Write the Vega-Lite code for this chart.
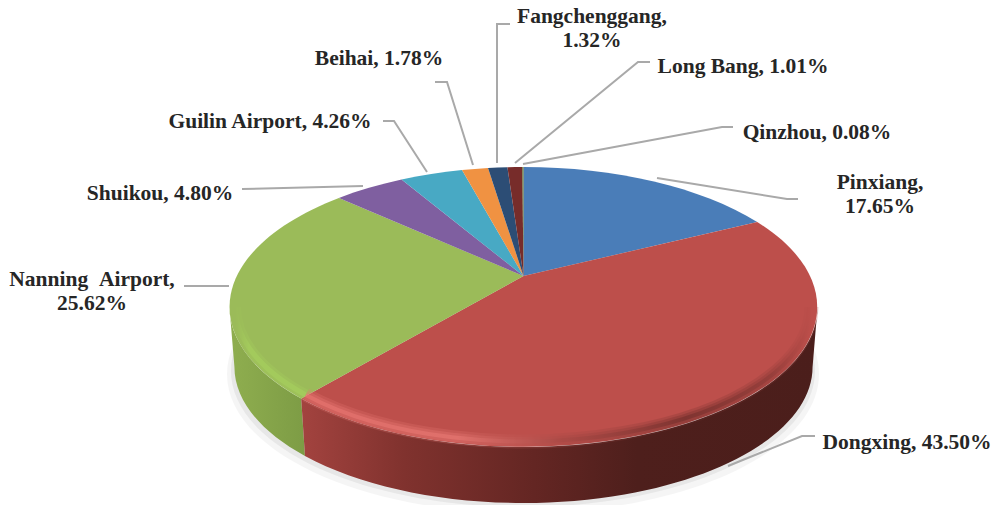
{
"$schema":"https://vega.github.io/schema/vega-lite/v6.json",
"width":997,"height":505,"padding":0,
"autosize":{"type":"fit","contains":"padding"},
"background":"white",
"config":{"view":{"stroke":null}},
"data":{"values":[
{"name":"Pinxiang","value":17.65,"label":"Pinxiang,\n17.65%"},
{"name":"Dongxing","value":43.5,"label":"Dongxing, 43.50%"},
{"name":"Nanning Airport","value":25.62,"label":"Nanning \u00a0Airport,\n25.62%"},
{"name":"Shuikou","value":4.8,"label":"Shuikou, 4.80%"},
{"name":"Guilin Airport","value":4.26,"label":"Guilin Airport, 4.26%"},
{"name":"Beihai","value":1.78,"label":"Beihai, 1.78%"},
{"name":"Fangchenggang","value":1.32,"label":"Fangchenggang,\n1.32%"},
{"name":"Long Bang","value":1.01,"label":"Long Bang, 1.01%"},
{"name":"Qinzhou","value":0.08,"label":"Qinzhou, 0.08%"}
]},
"transform":[
{"joinaggregate":[{"op":"sum","field":"value","as":"total"}]},
{"window":[{"op":"sum","field":"value","as":"cum"}]},
{"calculate":"0","as":"o"},
{"calculate":"2*PI*(datum.cum-datum.value)/datum.total","as":"t0"},
{"calculate":"2*PI*datum.cum/datum.total","as":"t1"},
{"calculate":"523.5+286.8*sin(datum.t0)/(1+0.221*cos(datum.t0))","as":"x0"},
{"calculate":"276-133.1*cos(datum.t0)/(1+0.221*cos(datum.t0))","as":"y0"},
{"calculate":"523.5+286.8*sin(datum.t1)/(1+0.221*cos(datum.t1))","as":"x1"},
{"calculate":"276-133.1*cos(datum.t1)/(1+0.221*cos(datum.t1))","as":"y1"},
{"calculate":"'M523.5 276 L'+format(datum.x0,'.2f')+' '+format(datum.y0,'.2f')+' A294 140 0 0 1 '+format(datum.x1,'.2f')+' '+format(datum.y1,'.2f')+' Z'","as":"face"},
{"calculate":"max(datum.t0,1.794)","as":"a"},
{"calculate":"min(datum.t1,4.489)","as":"b"},
{"calculate":"523.5+286.8*sin(datum.a)/(1+0.221*cos(datum.a))","as":"ax"},
{"calculate":"276-133.1*cos(datum.a)/(1+0.221*cos(datum.a))","as":"ay"},
{"calculate":"523.5+286.8*sin(datum.b)/(1+0.221*cos(datum.b))","as":"bx"},
{"calculate":"276-133.1*cos(datum.b)/(1+0.221*cos(datum.b))","as":"by"},
{"calculate":"'M'+format(datum.ax,'.2f')+' '+format(datum.ay,'.2f')+' A294 140 0 0 1 '+format(datum.bx,'.2f')+' '+format(datum.by,'.2f')+' L'+format(523.5+(datum.bx-523.5)*289/294,'.2f')+' '+format(367+(datum.by-307)*136/140,'.2f')+' A289 136 0 0 0 '+format(523.5+(datum.ax-523.5)*289/294,'.2f')+' '+format(367+(datum.ay-307)*136/140,'.2f')+' Z'","as":"wall"},
{"calculate":"'M'+format(523.5+(datum.ax-523.5)*288/294,'.2f')+' '+format(307+(datum.ay-307)*134.5/140,'.2f')+' A288 134.5 0 0 1 '+format(523.5+(datum.bx-523.5)*288/294,'.2f')+' '+format(307+(datum.by-307)*134.5/140,'.2f')","as":"rim"},
{"calculate":"{'Pinxiang':880,'Dongxing':907,'Nanning Airport':92,'Shuikou':160,'Guilin Airport':270,'Beihai':379,'Fangchenggang':592,'Long Bang':743,'Qinzhou':817}[datum.name]","as":"lx"},
{"calculate":"{'Pinxiang':182.5,'Dongxing':443,'Nanning Airport':280,'Shuikou':194,'Guilin Airport':122,'Beihai':59,'Fangchenggang':17,'Long Bang':67,'Qinzhou':133}[datum.name]","as":"ly"},
{"calculate":"{'Pinxiang':'M657 178 L787 199 L798 199','Dongxing':'M728 466 L802 436 L815 436','Nanning Airport':'M229 286 L184 286','Shuikou':'M363 186 L242 189','Guilin Airport':'M427 172 L394 121 L383 121','Beihai':'M473 165 L447 82 L435 82','Fangchenggang':'M497 163 L497 24 L510 24','Long Bang':'M515 163 L638 62 L650 62','Qinzhou':'M523 164 L722 127 L733 127'}[datum.name]","as":"leader"}
],
"resolve":{"scale":{"x":"shared","y":"shared"}},
"layer":[
{"transform":[{"filter":"datum.name==='Dongxing'"}],
 "mark":{"type":"point","filled":true,"size":4,"opacity":0.08,"color":"#808080"},
 "encoding":{
  "x":{"field":"o","type":"quantitative","scale":{"domain":[0,997],"range":[0,997],"nice":false},"axis":null},
  "y":{"field":"o","type":"quantitative","scale":{"domain":[0,505],"range":[0,505],"nice":false},"axis":null},
  "shape":{"value":"M227 374 A296 139 0 0 1 819 374 A296 139 0 0 1 227 374 Z"}}},
{"transform":[{"filter":"datum.name==='Dongxing'"}],
 "mark":{"type":"point","filled":true,"size":4,"opacity":0.12,"color":"#808080"},
 "encoding":{
  "x":{"field":"o","type":"quantitative","axis":null},
  "y":{"field":"o","type":"quantitative","axis":null},
  "shape":{"value":"M231 371 A292 136 0 0 1 815 371 A292 136 0 0 1 231 371 Z"}}},
{"transform":[{"filter":"datum.name==='Nanning Airport'"}],
 "mark":{"type":"point","filled":true,"size":4,"opacity":1,"fill":{"gradient":"linear","x1":0,"x2":1,"y1":0,"y2":0,"stops":[{"offset":0,"color":"#8fae4f"},{"offset":1,"color":"#7d9c45"}]}},
 "encoding":{
  "x":{"field":"o","type":"quantitative","axis":null},
  "y":{"field":"o","type":"quantitative","axis":null},
  "shape":{"field":"wall","type":"nominal","scale":null}}},
{"transform":[{"filter":"datum.name==='Dongxing'"}],
 "mark":{"type":"point","filled":true,"size":4,"opacity":1,"fill":{"gradient":"linear","x1":0,"x2":1,"y1":0,"y2":0,"stops":[{"offset":0,"color":"#a3433f"},{"offset":0.2,"color":"#80322e"},{"offset":0.45,"color":"#642623"},{"offset":0.65,"color":"#4e1f1c"},{"offset":1,"color":"#4b1e1b"}]}},
 "encoding":{
  "x":{"field":"o","type":"quantitative","axis":null},
  "y":{"field":"o","type":"quantitative","axis":null},
  "shape":{"field":"wall","type":"nominal","scale":null}}},
{"mark":{"type":"point","filled":true,"size":4,"opacity":1},
 "encoding":{
  "x":{"field":"o","type":"quantitative","axis":null},
  "y":{"field":"o","type":"quantitative","axis":null},
  "shape":{"field":"face","type":"nominal","scale":null},
  "color":{"field":"name","type":"nominal","legend":null,"sort":null,"scale":{
    "domain":["Pinxiang","Dongxing","Nanning Airport","Shuikou","Guilin Airport","Beihai","Fangchenggang","Long Bang","Qinzhou"],
    "range":["#4a7db8","#bd4f4b","#9bbb59","#7f5fa0","#48a9c4","#f09242","#2c4d75","#772c2a","#5f7530"]}}}},
{"transform":[{"filter":"datum.name==='Nanning Airport'"}],
 "mark":{"type":"point","filled":false,"size":4,"opacity":0.25,"strokeWidth":11,"strokeCap":"butt","stroke":{"gradient":"linear","x1":0,"x2":1,"y1":0,"y2":0,"stops":[{"offset":0,"color":"#9bbb59"},{"offset":0.2,"color":"#a9d45f"},{"offset":1,"color":"#a9d45f"}]}},
 "encoding":{
  "x":{"field":"o","type":"quantitative","axis":null},
  "y":{"field":"o","type":"quantitative","axis":null},
  "shape":{"field":"rim","type":"nominal","scale":null}}},
{"transform":[{"filter":"datum.name==='Nanning Airport'"}],
 "mark":{"type":"point","filled":false,"size":4,"opacity":0.5,"strokeWidth":5,"strokeCap":"butt","stroke":{"gradient":"linear","x1":0,"x2":1,"y1":0,"y2":0,"stops":[{"offset":0,"color":"#9bbb59"},{"offset":0.2,"color":"#a9d45f"},{"offset":1,"color":"#a9d45f"}]}},
 "encoding":{
  "x":{"field":"o","type":"quantitative","axis":null},
  "y":{"field":"o","type":"quantitative","axis":null},
  "shape":{"field":"rim","type":"nominal","scale":null}}},
{"transform":[{"filter":"datum.name==='Dongxing'"}],
 "mark":{"type":"point","filled":false,"size":4,"opacity":0.22,"strokeWidth":14,"strokeCap":"butt","stroke":{"gradient":"linear","x1":0,"x2":1,"y1":0,"y2":0,"stops":[{"offset":0,"color":"#ee7a75"},{"offset":0.3,"color":"#ec7d78"},{"offset":0.5,"color":"#a84a46"},{"offset":0.75,"color":"#6a2c29"},{"offset":0.92,"color":"#8a3a37"},{"offset":1,"color":"#bd4f4b"}]}},
 "encoding":{
  "x":{"field":"o","type":"quantitative","axis":null},
  "y":{"field":"o","type":"quantitative","axis":null},
  "shape":{"field":"rim","type":"nominal","scale":null}}},
{"transform":[{"filter":"datum.name==='Dongxing'"}],
 "mark":{"type":"point","filled":false,"size":4,"opacity":0.3,"strokeWidth":9,"strokeCap":"butt","stroke":{"gradient":"linear","x1":0,"x2":1,"y1":0,"y2":0,"stops":[{"offset":0,"color":"#ee7a75"},{"offset":0.3,"color":"#ec7d78"},{"offset":0.5,"color":"#a84a46"},{"offset":0.75,"color":"#6a2c29"},{"offset":0.92,"color":"#8a3a37"},{"offset":1,"color":"#bd4f4b"}]}},
 "encoding":{
  "x":{"field":"o","type":"quantitative","axis":null},
  "y":{"field":"o","type":"quantitative","axis":null},
  "shape":{"field":"rim","type":"nominal","scale":null}}},
{"transform":[{"filter":"datum.name==='Dongxing'"}],
 "mark":{"type":"point","filled":false,"size":4,"opacity":0.5,"strokeWidth":4,"strokeCap":"butt","stroke":{"gradient":"linear","x1":0,"x2":1,"y1":0,"y2":0,"stops":[{"offset":0,"color":"#ee7a75"},{"offset":0.3,"color":"#ec7d78"},{"offset":0.5,"color":"#a84a46"},{"offset":0.75,"color":"#6a2c29"},{"offset":0.92,"color":"#8a3a37"},{"offset":1,"color":"#bd4f4b"}]}},
 "encoding":{
  "x":{"field":"o","type":"quantitative","axis":null},
  "y":{"field":"o","type":"quantitative","axis":null},
  "shape":{"field":"rim","type":"nominal","scale":null}}},
{"mark":{"type":"point","filled":false,"size":4,"opacity":1,"strokeWidth":2,"stroke":"#a9a9a9"},
 "encoding":{
  "x":{"field":"o","type":"quantitative","axis":null},
  "y":{"field":"o","type":"quantitative","axis":null},
  "shape":{"field":"leader","type":"nominal","scale":null}}},
{"mark":{"type":"text","font":"Liberation Serif","fontWeight":"bold","fontSize":21.5,"color":"#262626","lineBreak":"\n","lineHeight":24,"align":"center","baseline":"middle"},
 "encoding":{
  "x":{"field":"lx","type":"quantitative","axis":null},
  "y":{"field":"ly","type":"quantitative","axis":null},
  "text":{"field":"label","type":"nominal"}}}
]
}
